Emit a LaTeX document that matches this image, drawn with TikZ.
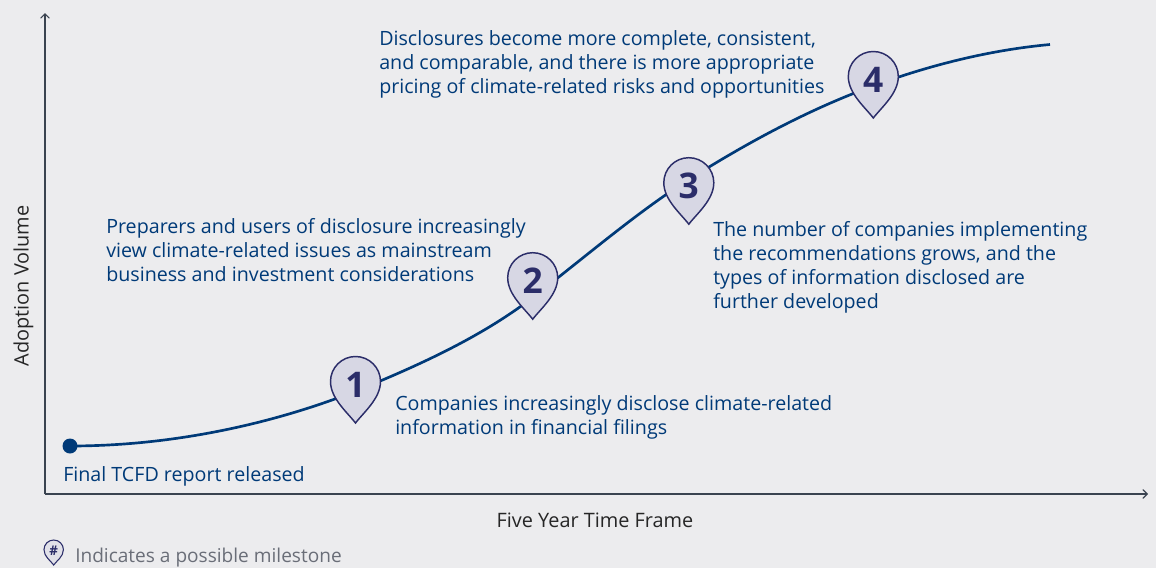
\documentclass[tikz,border=0pt]{standalone}
\usepackage{fontspec}
\setmainfont{Open Sans}
\usetikzlibrary{arrows}
\definecolor{bgcol}{HTML}{ECECEE}
\definecolor{txtblue}{HTML}{003A78}
\definecolor{pinline}{HTML}{2B2D69}
\definecolor{pinfill}{HTML}{D7D7E4}
\definecolor{axiscol}{HTML}{3A4350}
\definecolor{notecol}{HTML}{6A6E78}
\tikzset{
	lab/.style={anchor=north west,inner sep=0pt,align=left,text=txtblue,font=\fontsize{14.75}{18}\selectfont},
	axlab/.style={inner sep=0pt,text=black!85,font=\fontsize{14.9}{18}\selectfont},
	num/.style={inner sep=0pt,text=pinline,font=\fontsize{26.5}{27}\selectfont\bfseries}
}
% pin with its number on it
\newcommand{\milestone}[4]{%
	\draw[pinline, line width=1.1pt, fill=pinfill, shift={(#2,#3)}]
	(0,41.5) .. controls (-8,31) and (-25,17) .. (-25,0)
	.. controls (-25,-13.8) and (-13.8,-25) .. (0,-25)
	.. controls (13.8,-25) and (25,-13.8) .. (25,0)
	.. controls (25,17) and (8,31) .. (0,41.5) -- cycle;
	\node[num] (#1) at (#2,#3+3) {#4};
}
\begin{document}
\begin{tikzpicture}[x=0.75pt,y=-0.75pt]
	\useasboundingbox[fill=bgcol] (0,0) rectangle (1156,568);
	\coordinate (O) at (45,494);
	\coordinate (A) at (45,13);
	\coordinate (B) at (1148,494);
	\coordinate (S) at (70,446);
	\coordinate (E) at (1050,44.5);
	
	% axes
	\draw[-angle 90, axiscol, line width=0.9pt] (O) -- (A);
	\draw[-angle 90, axiscol, line width=0.9pt] (O) -- (B);
	\node[axlab, rotate=90] (ylab) at (23.5,286) {Adoption Volume};
	\node[axlab] (xlab) at (595,520) {Five Year Time Frame};
	
	% curve
	\draw[txtblue, line width=2pt] (S) .. controls (170,446) and (270,425) .. (356,391)
	.. controls (415,367) and (480,338) .. (532,298)
	.. controls (584,258) and (636,213) .. (688,180)
	.. controls (750,141) and (810,109) .. (873,86)
	.. controls (930,65) and (990,50) .. (E);
	\fill[txtblue] (S) circle (7.5);
	
	% pins
	\milestone{one}{355.5}{381.5}{1}
	\milestone{two}{532.7}{277.7}{2}
	\milestone{three}{688.8}{182.7}{3}
	\milestone{four}{873.3}{76.5}{4}
	
	% texts
	\node[lab] (start) at (63,466) {Final TCFD report released};
	\node[lab] (t1) at (395,395) {Companies increasingly disclose climate-related\\information in financial filings};
	\node[lab] (t2) at (106,218) {Preparers and users of disclosure increasingly\\view climate-related issues as mainstream\\business and investment considerations};
	\node[lab] (t3) at (713,221) {The number of companies implementing\\the recommendations grows, and the\\types of information disclosed are\\further developed};
	\node[lab] (t4) at (379,30) {Disclosures become more complete, consistent,\\and comparable, and there is more appropriate\\pricing of climate-related risks and opportunities};
	
	% legend
	\draw[pinline, line width=0.8pt, fill=pinfill!50!bgcol, shift={(53.7,549.7)}]
	(0,15.3) .. controls (-3,11) and (-9.7,7) .. (-9.7,0)
	.. controls (-9.7,-5.4) and (-5.4,-9.7) .. (0,-9.7)
	.. controls (5.4,-9.7) and (9.7,-5.4) .. (9.7,0)
	.. controls (9.7,7) and (3,11) .. (0,15.3) -- cycle;
	\node[inner sep=0pt, text=pinline, font=\fontsize{10}{10}\selectfont\bfseries] (hash) at (53.7,551) {\#};
	\node[inner sep=0pt, anchor=west, text=notecol, font=\fontsize{14.3}{18}\selectfont] (note) at (75,558) {Indicates a possible milestone};
\end{tikzpicture}
\end{document}
